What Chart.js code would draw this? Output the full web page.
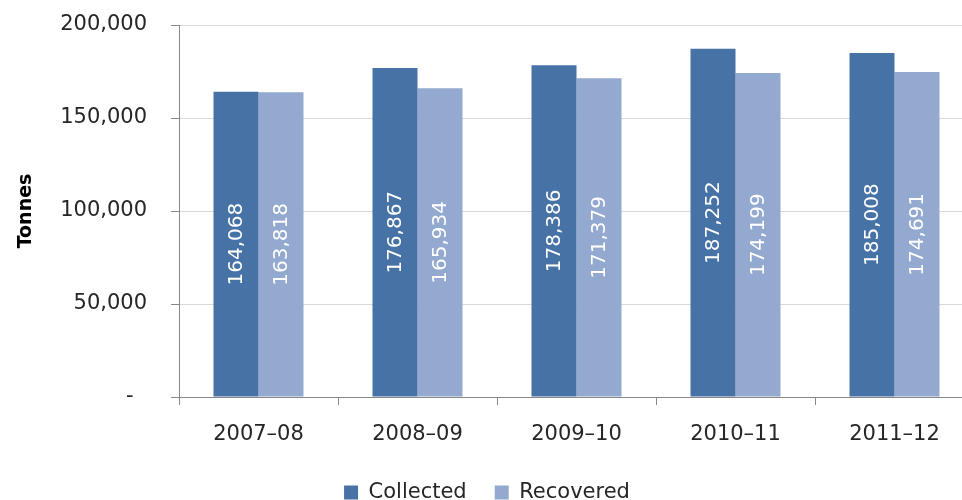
<!DOCTYPE html>
<html>
<head>
<meta charset="utf-8">
<script src="https://cdn.jsdelivr.net/npm/chart.js@4"></script>
<style>
  html, body { margin: 0; padding: 0; background: #fff; overflow: hidden; }
  #wrap { width: 982px; height: 500px; position: relative; }
</style>
</head>
<body>
<div id="wrap"><canvas id="chart"></canvas></div>
<script>
const years = ['2007–08', '2008–09', '2009–10', '2010–11', '2011–12'];
const collected = [164068, 176867, 178386, 187252, 185008];
const recovered = [163818, 165934, 171379, 174199, 174691];
const yTicks = [0, 50000, 100000, 150000, 200000];

const FONT = 'DejaVu Sans';

// white rotated value labels in the middle of each bar
const barLabels = {
  id: 'barLabels',
  afterDatasetsDraw(chart) {
    const ctx = chart.ctx;
    ctx.save();
    ctx.fillStyle = '#ffffff';
    ctx.font = '20px "' + FONT + '"';
    ctx.textAlign = 'center';
    ctx.textBaseline = 'middle';
    chart.data.datasets.forEach((ds, i) => {
      chart.getDatasetMeta(i).data.forEach((bar, j) => {
        const mid = (bar.y + bar.base) / 2;
        ctx.save();
        ctx.translate(bar.x, mid);
        ctx.rotate(-Math.PI / 2);
        ctx.fillText(ds.data[j].toLocaleString('en-US'), 0, 1);
        ctx.restore();
      });
    });
    ctx.restore();
  }
};

new Chart(document.getElementById('chart'), {
  type: 'bar',
  data: {
    labels: years,
    datasets: [
      { label: 'Collected', data: collected, backgroundColor: '#4672a6', categoryPercentage: 0.566, barPercentage: 1 },
      { label: 'Recovered', data: recovered, backgroundColor: '#94a9cf', categoryPercentage: 0.566, barPercentage: 1 }
    ]
  },
  options: {
    responsive: true,
    maintainAspectRatio: false,
    animation: false,
    layout: { padding: { top: 25, right: 8, left: 0, bottom: -13 } },
    plugins: {
      legend: {
        position: 'bottom',
        labels: {
          font: { family: FONT, size: 21 },
          color: '#262626',
          boxWidth: 14,
          boxHeight: 14,
          padding: 28
        }
      },
      tooltip: { enabled: false }
    },
    scales: {
      x: {
        afterFit(axis) { axis.height = 57; },
        grid: { display: true, drawOnChartArea: false, offset: true, color: '#888', tickLength: 8 },
        border: { color: '#888' },
        ticks: { color: '#262626', font: { family: FONT, size: 21 }, padding: 17 }
      },
      y: {
        min: 0,
        max: 200000,
        afterBuildTicks(axis) { axis.ticks = yTicks.map(v => ({ value: v })); },
        afterFit(axis) { axis.width = 179; axis.paddingTop = 0; axis.paddingBottom = 0; },
        grid: { color: '#d9d9d9', tickColor: '#888', tickLength: 8 },
        border: { color: '#888' },
        ticks: {
          color: '#262626',
          font: { family: FONT, size: 21 },
          padding: 24,
          callback: v => v === 0 ? '-  ' : v.toLocaleString('en-US')
        },
        title: {
          display: true,
          text: 'Tonnes',
          color: '#000',
          font: { family: FONT, size: 19, weight: 'bold' },
          padding: { top: 15, bottom: 0 }
        }
      }
    }
  },
  plugins: [barLabels]
});
</script>
</body>
</html>
